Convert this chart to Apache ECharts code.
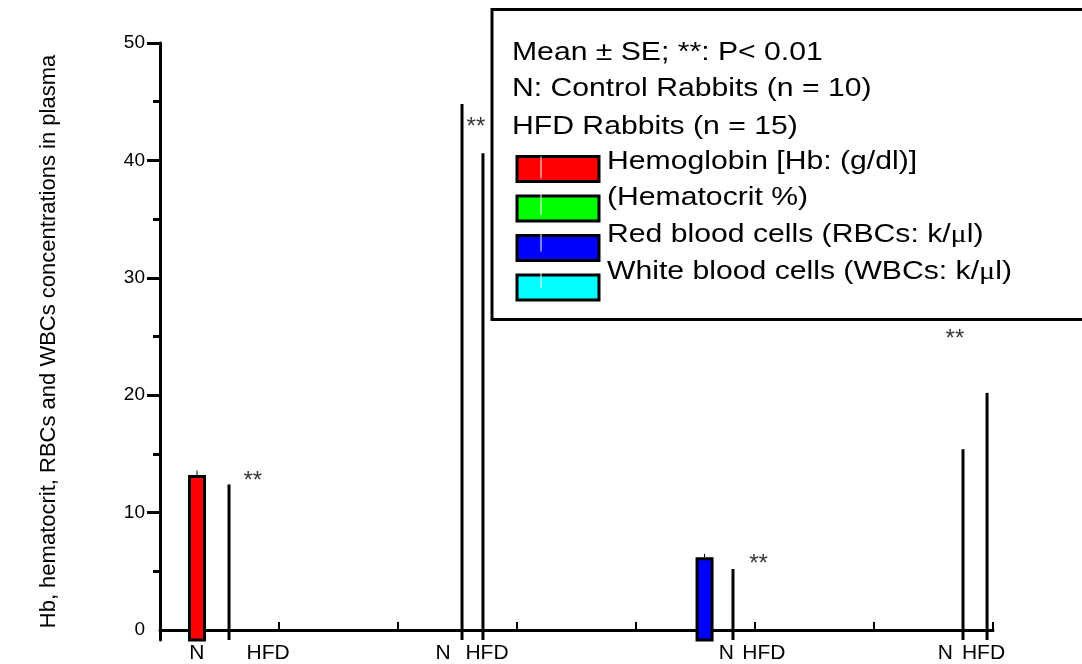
<!DOCTYPE html>
<html>
<head>
<meta charset="utf-8">
<script src="https://cdn.jsdelivr.net/npm/echarts@6/dist/echarts.min.js"></script>
<style>
  html, body { margin: 0; padding: 0; background: #fff; }
  #chart { width: 1082px; height: 664px; }
</style>
</head>
<body>
<div id="chart"></div>
<script>
// parameters (one series each)
const paramNames = ['Hemoglobin [Hb: (g/dl)]', '(Hematocrit %)', 'Red blood cells (RBCs: k/\u03bcl)', 'White blood cells (WBCs: k/\u03bcl)'];
const controlValues = [13.2, 44.8, 6.2, 15.4];   // N
const hfdValues = [12.4, 40.6, 5.2, 20.2];       // HFD
const controlSE = [0.3, 0.3, 0.2, 0.3];
// where each bar sits along the x axis (axis units, 7 slots)
const controlSlot = [0.311, 2.538, 4.576, 6.748];
const hfdSlot = [0.580, 2.714, 4.815, 6.950];
// group labels under the x axis
const groupLabels = ['N', 'HFD', 'N', 'HFD', 'N', 'HFD', 'N', 'HFD'];
const groupLabelSlot = [0.31, 0.908, 2.378, 2.748, 4.76, 5.075, 6.6, 6.92];
// significance marks (**)
const sigSlot = [0.78, 2.655, 5.03, 6.68];
const sigLevel = [13.2, 43.3, 6.1, 25.25];
// y axis ticks
const yTickLabels = [0, 10, 20, 30, 40, 50];
const yMajorTicks = [10, 20, 30, 40, 50];
const yMinorTicks = [5, 15, 25, 35, 45];

const headerLines = ['Mean \u00b1 SE; **: P< 0.01', 'N: Control Rabbits (n = 10)', 'HFD Rabbits (n = 15)'];

const paramColors = ['#ff0000', '#00ff00', '#0000ff', '#00ffff'];
const filledControl = [true, false, true, false];
const FONT = '"Liberation Sans", Arial, sans-serif';
const yMin = -0.85;
const STRETCH = 1.16;

const chart = echarts.init(document.getElementById('chart'));

function renderBar(params, api) {
  const i = params.seriesIndex;
  const x = api.value(0), v = api.value(1), se = api.value(2), grp = api.value(3);
  const top = api.coord([x, v]);
  const base = api.coord([x, yMin]);
  if (grp === 0 && filledControl[i]) {
    const whisk = api.coord([x, v + se]);
    return {
      type: 'group',
      children: [
        { type: 'line', shape: { x1: top[0], y1: top[1], x2: top[0], y2: whisk[1] - 1 },
          style: { stroke: '#000', lineWidth: 1 } },
        { type: 'rect', shape: { x: top[0] - 7.5, y: top[1] + 1.5, width: 15, height: base[1] - top[1] - 1.5 },
          style: { fill: paramColors[i], stroke: '#000', lineWidth: 3 } }
      ]
    };
  }
  return {
    type: 'rect',
    shape: { x: top[0] - 1.5, y: top[1], width: 3, height: base[1] - top[1] },
    style: { fill: '#000' }
  };
}

const barSeries = paramNames.map((name, i) => ({
  name: name,
  type: 'custom',
  renderItem: renderBar,
  itemStyle: { color: paramColors[i] },
  encode: { x: 0, y: 1 },
  data: [
    [controlSlot[i], controlValues[i], controlSE[i], 0],
    [hfdSlot[i], hfdValues[i], 0, 1]
  ],
  z: 3
}));

const sigSeries = {
  type: 'scatter',
  symbolSize: 1,
  itemStyle: { color: 'rgba(0,0,0,0)' },
  silent: true,
  label: {
    show: true, position: 'inside', formatter: '**', color: '#000',
    fontSize: 24, fontFamily: FONT, offset: [0, 6]
  },
  data: sigSlot.map((s, i) => [s, sigLevel[i]]),
  z: 4
};

// legend box and text
const graphics = [
  { type: 'rect', z: 1, shape: { x: 492, y: 9.5, width: 700, height: 310 },
    style: { fill: '#fff', stroke: '#000', lineWidth: 3 } }
];
const headerY = [53, 89, 127];
headerLines.forEach((t, k) => {
  graphics.push({ type: 'text', z: 10, x: 512, y: headerY[k], scaleX: STRETCH,
    style: { text: t, font: '26px ' + FONT, fill: '#000', verticalAlign: 'middle' } });
});
const itemTextY = [162, 198, 235, 272];
const swatchY = [167.5, 204, 240.5, 277];
paramNames.forEach((n, k) => {
  const rich = n.replace('\u03bc', '{mu|\u03bc}');
  graphics.push({ type: 'text', z: 10, x: 607, y: itemTextY[k], scaleX: STRETCH,
    style: { text: rich, font: '26px ' + FONT, fill: '#000', verticalAlign: 'middle',
      rich: { mu: { fontFamily: '"Liberation Serif", serif', fontSize: 26 } } } });
  graphics.push({ type: 'line', z: 10, shape: { x1: 541, y1: swatchY[k] - 11, x2: 541, y2: swatchY[k] + 11 },
    style: { stroke: '#fff', lineWidth: 1 } });
});

const option = {
  animation: false,
  backgroundColor: '#fff',
  grid: { left: 160, right: 89, top: 43, bottom: 21, containLabel: false },
  legend: {
    data: paramNames,
    orient: 'vertical',
    left: 515.5,
    top: 155,
    padding: 0,
    itemWidth: 82,
    itemHeight: 25,
    itemGap: 11.5,
    icon: 'rect',
    itemStyle: { borderColor: '#000', borderWidth: 3 },
    formatter: () => '',
    selectedMode: false,
    z: 5
  },
  xAxis: {
    type: 'value',
    min: 0, max: 7, interval: 1,
    splitLine: { show: false },
    axisLine: { lineStyle: { color: '#000', width: 3 } },
    axisTick: { inside: true, length: 8, lineStyle: { color: '#000', width: 2 } },
    axisLabel: {
      customValues: groupLabelSlot,
      formatter: (v) => {
        let best = 0;
        groupLabelSlot.forEach((s, k) => { if (Math.abs(s - v) < Math.abs(groupLabelSlot[best] - v)) best = k; });
        return groupLabels[best];
      },
      color: '#000', fontSize: 21, fontFamily: FONT, margin: 3
    }
  },
  yAxis: [
    {
      type: 'value',
      position: 'left',
      min: yMin, max: 50,
      name: 'Hb, hematocrit, RBCs and WBCs concentrations in plasma',
      nameLocation: 'middle',
      nameRotate: 90,
      nameGap: 100,
      nameTextStyle: { color: '#000', fontSize: 22, fontFamily: FONT },
      splitLine: { show: false },
      axisLine: { show: true, lineStyle: { color: '#000', width: 3 } },
      axisTick: { show: true, customValues: yMajorTicks, length: 13, lineStyle: { color: '#000', width: 3 } },
      axisLabel: { customValues: yTickLabels, color: '#000', fontSize: 19, fontFamily: FONT, margin: 15 }
    },
    {
      type: 'value',
      position: 'left',
      min: yMin, max: 50,
      splitLine: { show: false },
      axisLine: { show: false },
      axisTick: { show: true, customValues: yMinorTicks, length: 7, lineStyle: { color: '#000', width: 3 } },
      axisLabel: { show: false }
    }
  ],
  graphic: graphics,
  series: barSeries.concat([sigSeries])
};

chart.setOption(option);
window.addEventListener('resize', () => chart.resize());
</script>
</body>
</html>
